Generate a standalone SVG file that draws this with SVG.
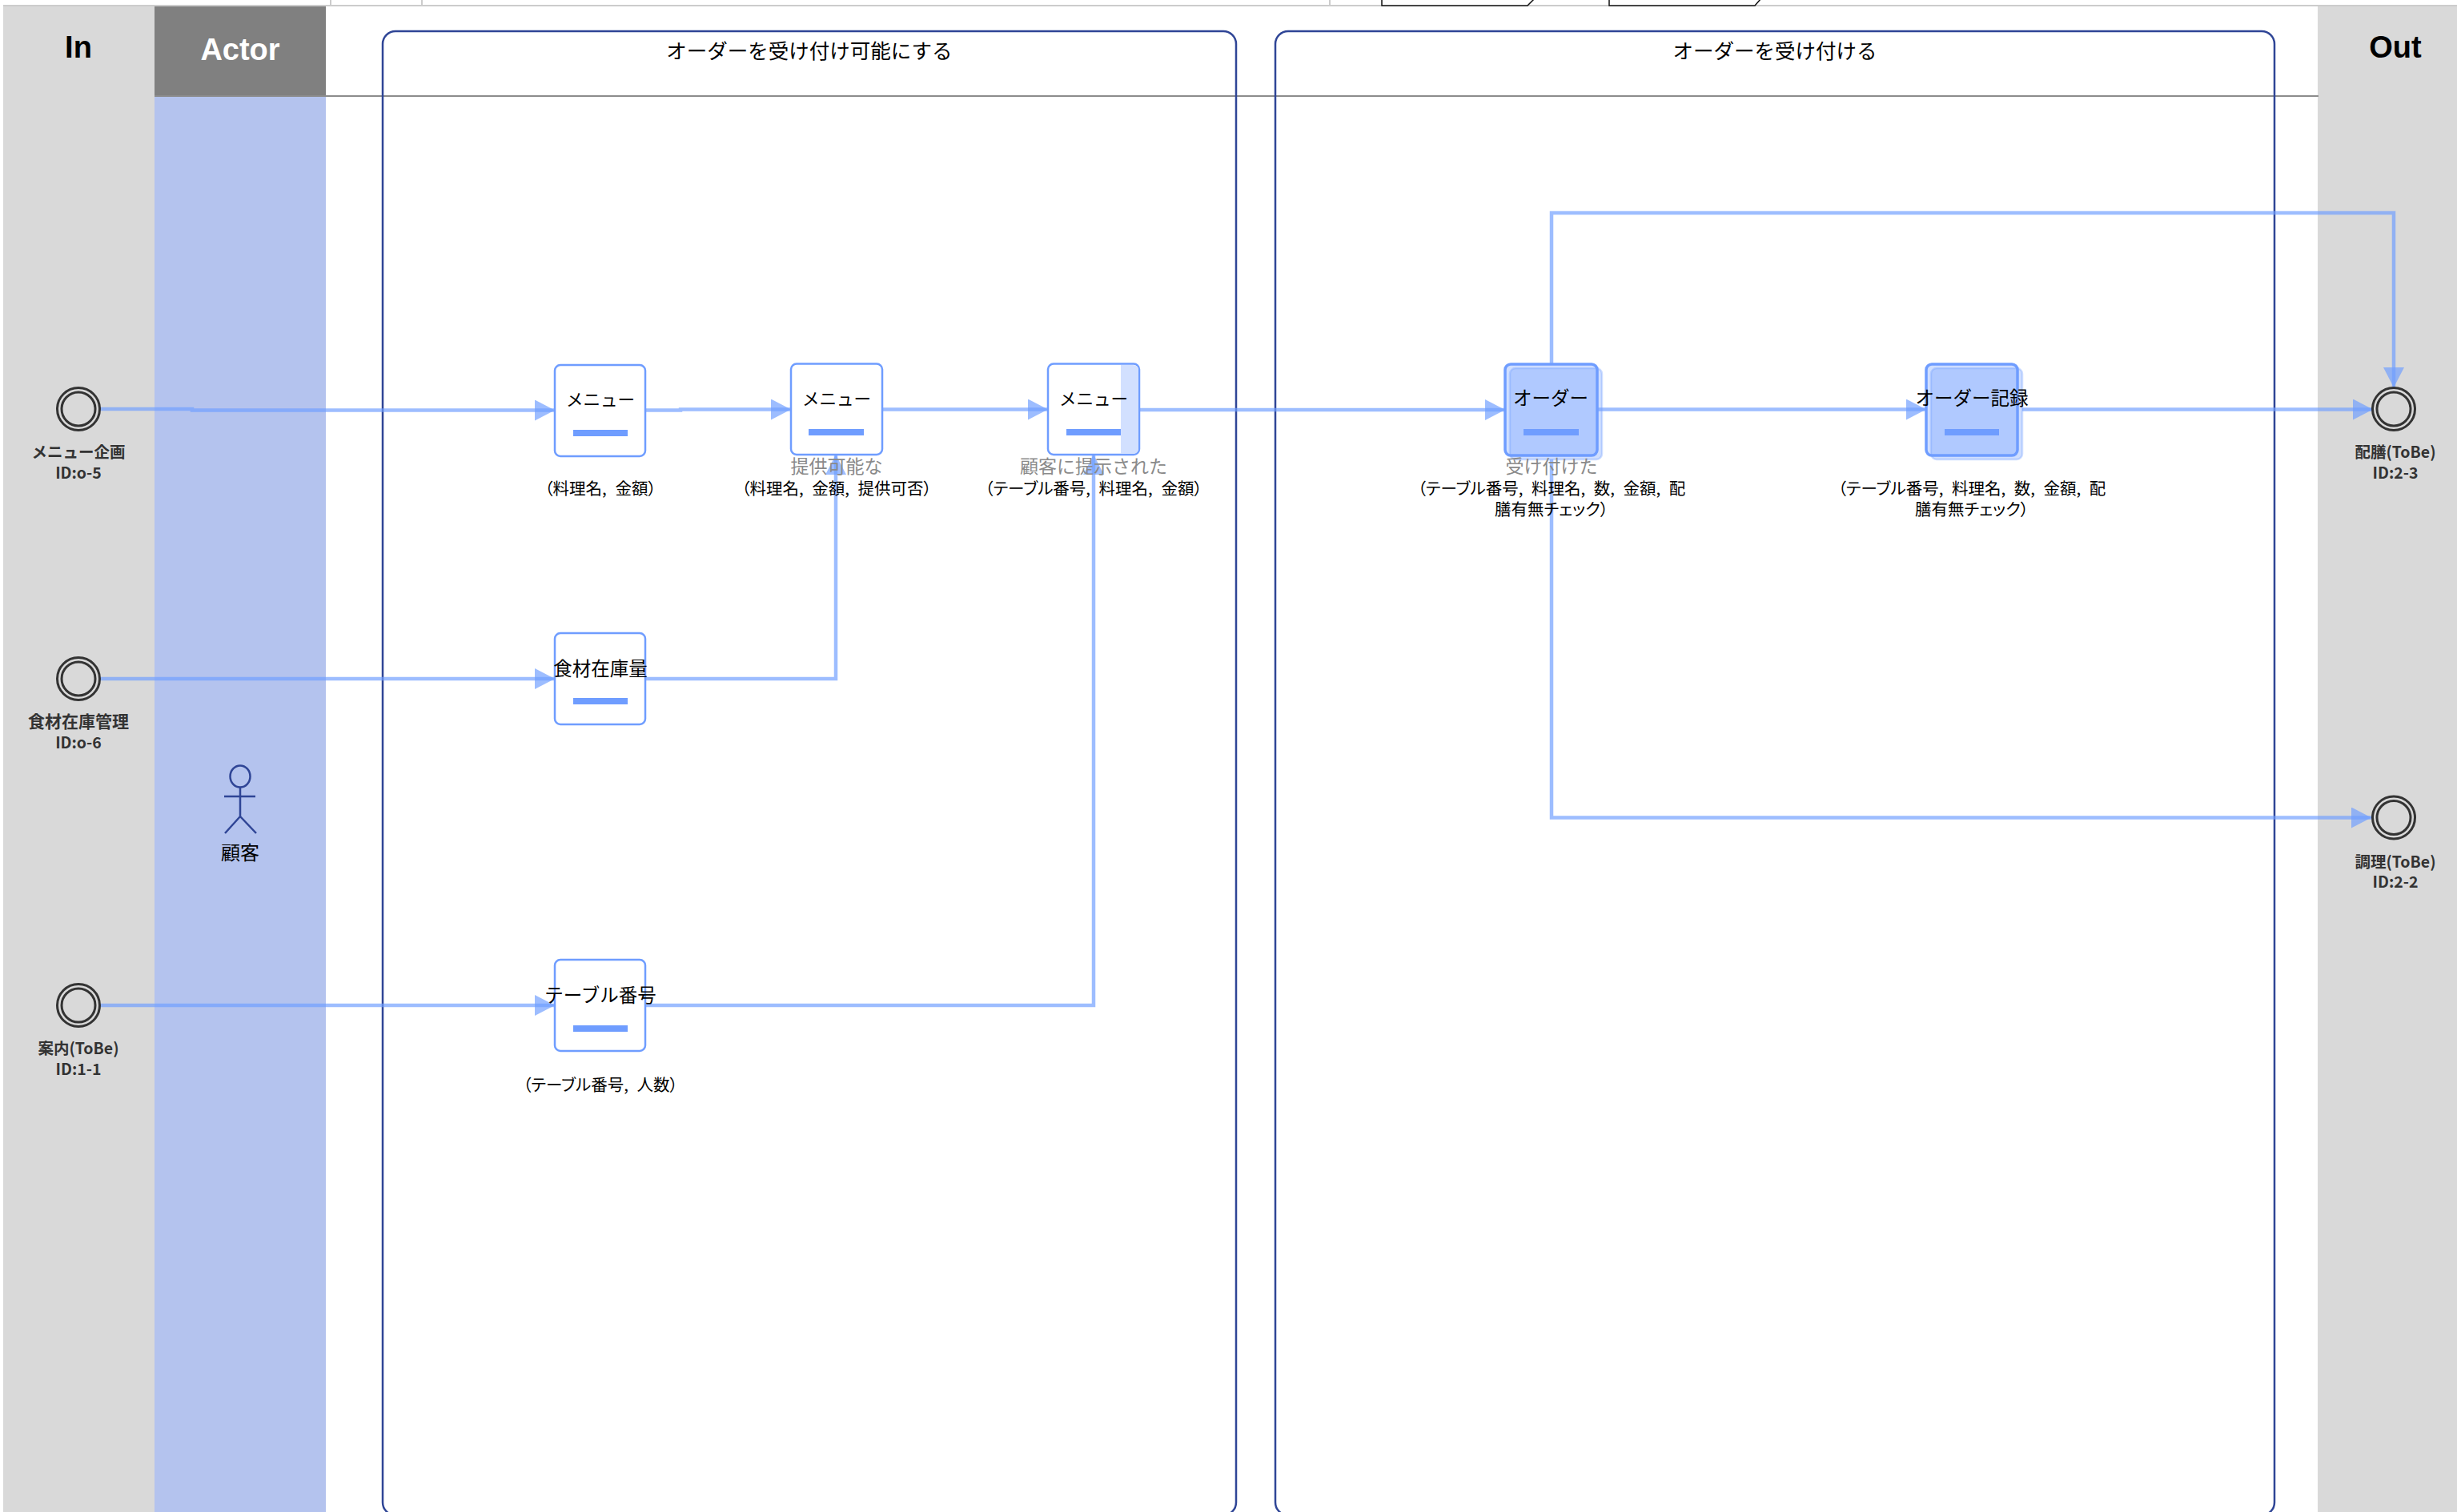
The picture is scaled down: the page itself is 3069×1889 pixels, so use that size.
<svg xmlns="http://www.w3.org/2000/svg" width="3069" height="1889" viewBox="0 0 3069 1889">
<style>
text{font-family:"Noto Sans CJK JP","Noto Sans",sans-serif;text-anchor:middle;fill:#000}
.h{font-family:"Liberation Sans",sans-serif;font-weight:700;font-size:38px}
.t{font-size:23.500px}
.m{font-size:21.500px}
.s{font-size:20.500px;word-spacing:6px;font-feature-settings:"palt"}
.g{font-size:23px;fill:#8a8a8a}
.e{font-size:19.500px;font-weight:700;fill:#333}
.c{fill:none;stroke:#6f9dff;stroke-opacity:.68;stroke-width:4.500}
.task{fill:#fff;stroke:#6f9dff;stroke-width:2.500}
.dark{fill:#6f9dff;fill-opacity:.33;stroke:#6f9dff;stroke-width:3.500}
.back{fill:#6f9dff;fill-opacity:.33;stroke:#6f9dff;stroke-opacity:.33;stroke-width:2.500}
.bar{fill:#6f9dff}
.ev{fill:none;stroke:#333;stroke-width:3}
.grp{fill:none;stroke:#2f4596;stroke-width:2.500}
.ac{fill:none;stroke:#2f4596;stroke-width:2.500}
.top{fill:#fff;stroke:#111;stroke-width:1.500}
</style>
<defs>
<marker id="a" markerUnits="userSpaceOnUse" markerWidth="26" markerHeight="26" refX="25" refY="13" orient="auto"><path d="M0 0L25 13L0 26Z" fill="#6f9dff" fill-opacity=".68"/></marker>
</defs>
<rect width="3069" height="1889" fill="#fff"/>
<g id="topstrip">
<path d="M4 7H3069M413 0V6M527 0V6M1661 0V6" fill="none" stroke="#ccc" stroke-width="2"/>
<path class="top" d="M1726 -2V7H1908L1916 -1"/>
<path class="top" d="M2010 -2V7H2192L2199 -1"/>
</g>
<g id="lanes">
<rect x="4" y="8" width="189" height="1881" fill="#d9d9d9"/>
<rect x="193" y="8" width="214" height="112" fill="#808080"/>
<rect x="193" y="120" width="214" height="1769" fill="#b4c3ee"/>
<rect x="2895" y="8" width="174" height="1881" fill="#d9d9d9"/>
<path d="M193 120H2896" fill="none" stroke="#8c8c8c" stroke-width="2"/>
<text class="h" x="98" y="72">In</text>
<text class="h" x="300" y="75" style="fill:#fff">Actor</text>
<text class="h" x="2992" y="72">Out</text>
</g>
<g id="group-1"><rect class="grp" x="478" y="39" width="1066" height="1854" rx="16"/><text x="1011" y="73" style="font-size:25.500px">オーダーを受け付け可能にする</text></g>
<g id="group-2"><rect class="grp" x="1593" y="39" width="1248" height="1854" rx="16"/><text x="2217" y="73" style="font-size:25.500px">オーダーを受け付ける</text></g>
<g id="actor">
<ellipse class="ac" cx="300" cy="970" rx="12.500" ry="13.500"/>
<path class="ac" d="M300 984V1020M280 995H319M281 1041L300 1020L320 1041"/>
<text x="300" y="1074" style="font-size:24px">顧客</text>
</g>
<g id="connectors">
<path class="c" d="M125 511H240V512.500H693" marker-end="url(#a)"/>
<path class="c" d="M806 512.500H850V511.500H988" marker-end="url(#a)"/>
<path class="c" d="M1102 511.500H1309" marker-end="url(#a)"/>
<path class="c" d="M1423 512H1880" marker-end="url(#a)"/>
<path class="c" d="M1995 511.500H2406" marker-end="url(#a)"/>
<path class="c" d="M2526 511.500H2964" marker-end="url(#a)"/>
<path class="c" d="M125 848H693" marker-end="url(#a)"/>
<path class="c" d="M125 1256H693" marker-end="url(#a)"/>
<path class="c" d="M806 848H1044V568" marker-end="url(#a)"/>
<path class="c" d="M806 1256H1366V568" marker-end="url(#a)"/>
<path class="c" d="M1938 454V266H2990V484" marker-end="url(#a)"/>
<path class="c" d="M1938 574V1021.500H2962" marker-end="url(#a)"/>
</g>
<g id="ev-in-1"><circle class="ev" cx="98" cy="511" r="26.500"/><circle class="ev" cx="98" cy="511" r="21"/><text class="e" x="98" y="572" style="font-size:19.500px">メニュー企画</text><text class="e" x="98" y="598">ID:o-5</text></g>
<g id="ev-in-2"><circle class="ev" cx="98" cy="848" r="26.500"/><circle class="ev" cx="98" cy="848" r="21"/><text class="e" x="98" y="909" style="font-size:21px">食材在庫管理</text><text class="e" x="98" y="935">ID:o-6</text></g>
<g id="ev-in-3"><circle class="ev" cx="98" cy="1256" r="26.500"/><circle class="ev" cx="98" cy="1256" r="21"/><text class="e" x="98" y="1317">案内(ToBe)</text><text class="e" x="98" y="1343">ID:1-1</text></g>
<g id="ev-out-1"><circle class="ev" cx="2990" cy="511" r="26.500"/><circle class="ev" cx="2990" cy="511" r="21"/><text class="e" x="2992" y="572">配膳(ToBe)</text><text class="e" x="2992" y="598">ID:2-3</text></g>
<g id="ev-out-2"><circle class="ev" cx="2990" cy="1021.500" r="26.500"/><circle class="ev" cx="2990" cy="1021.500" r="21"/><text class="e" x="2992" y="1084">調理(ToBe)</text><text class="e" x="2992" y="1109">ID:2-2</text></g>
<g id="task-menu-1"><rect class="task" x="693" y="456" width="113" height="114" rx="7"/><rect class="bar" x="716" y="537" width="68" height="8"/><text class="m" x="750" y="507">メニュー</text><text class="s" x="750" y="618">（料理名, 金額）</text></g>
<g id="task-menu-2"><rect class="task" x="988" y="454.500" width="114" height="113.500" rx="7"/><rect class="bar" x="1010" y="536" width="69" height="8"/><text class="m" x="1045" y="506">メニュー</text><text class="g" x="1045" y="591">提供可能な</text><text class="s" x="1045" y="618">（料理名, 金額, 提供可否）</text></g>
<g id="task-menu-3"><rect class="task" x="1309" y="454.500" width="114" height="113.500" rx="7"/><path d="M1400 456H1415Q1422 456 1422 463V560Q1422 567 1415 567H1400Z" fill="#d2e0ff"/><rect class="bar" x="1332" y="536" width="68" height="8"/><text class="m" x="1366" y="506">メニュー</text><text class="g" x="1366" y="591">顧客に提示された</text><text class="s" x="1366" y="618">（テーブル番号, 料理名, 金額）</text></g>
<g id="task-stock"><rect class="task" x="693" y="791" width="113" height="114" rx="7"/><rect class="bar" x="716" y="872" width="68" height="8"/><text class="t" x="750" y="844">食材在庫量</text></g>
<g id="task-table"><rect class="task" x="693" y="1199" width="113" height="114" rx="7"/><rect class="bar" x="716" y="1281" width="68" height="8"/><text class="t" x="750" y="1252">テーブル番号</text><text class="s" x="750" y="1363">（テーブル番号, 人数）</text></g>
<g id="task-order"><rect class="back" x="1886" y="460" width="115" height="114" rx="7"/><rect class="dark" x="1880" y="455" width="115" height="114" rx="7"/><rect class="bar" x="1903" y="536" width="69" height="8"/><text class="t" x="1937" y="506">オーダー</text><text class="g" x="1938" y="591">受け付けた</text><text class="s" x="1938" y="618">（テーブル番号, 料理名, 数, 金額, 配</text><text class="s" x="1938" y="644">膳有無チェック）</text></g>
<g id="task-record"><rect class="back" x="2412" y="460" width="114" height="114" rx="7"/><rect class="dark" x="2406" y="455" width="114" height="114" rx="7"/><rect class="bar" x="2429" y="536" width="68" height="8"/><text class="t" x="2463" y="506">オーダー記録</text><text class="s" x="2463" y="618">（テーブル番号, 料理名, 数, 金額, 配</text><text class="s" x="2463" y="644">膳有無チェック）</text></g>
</svg>
